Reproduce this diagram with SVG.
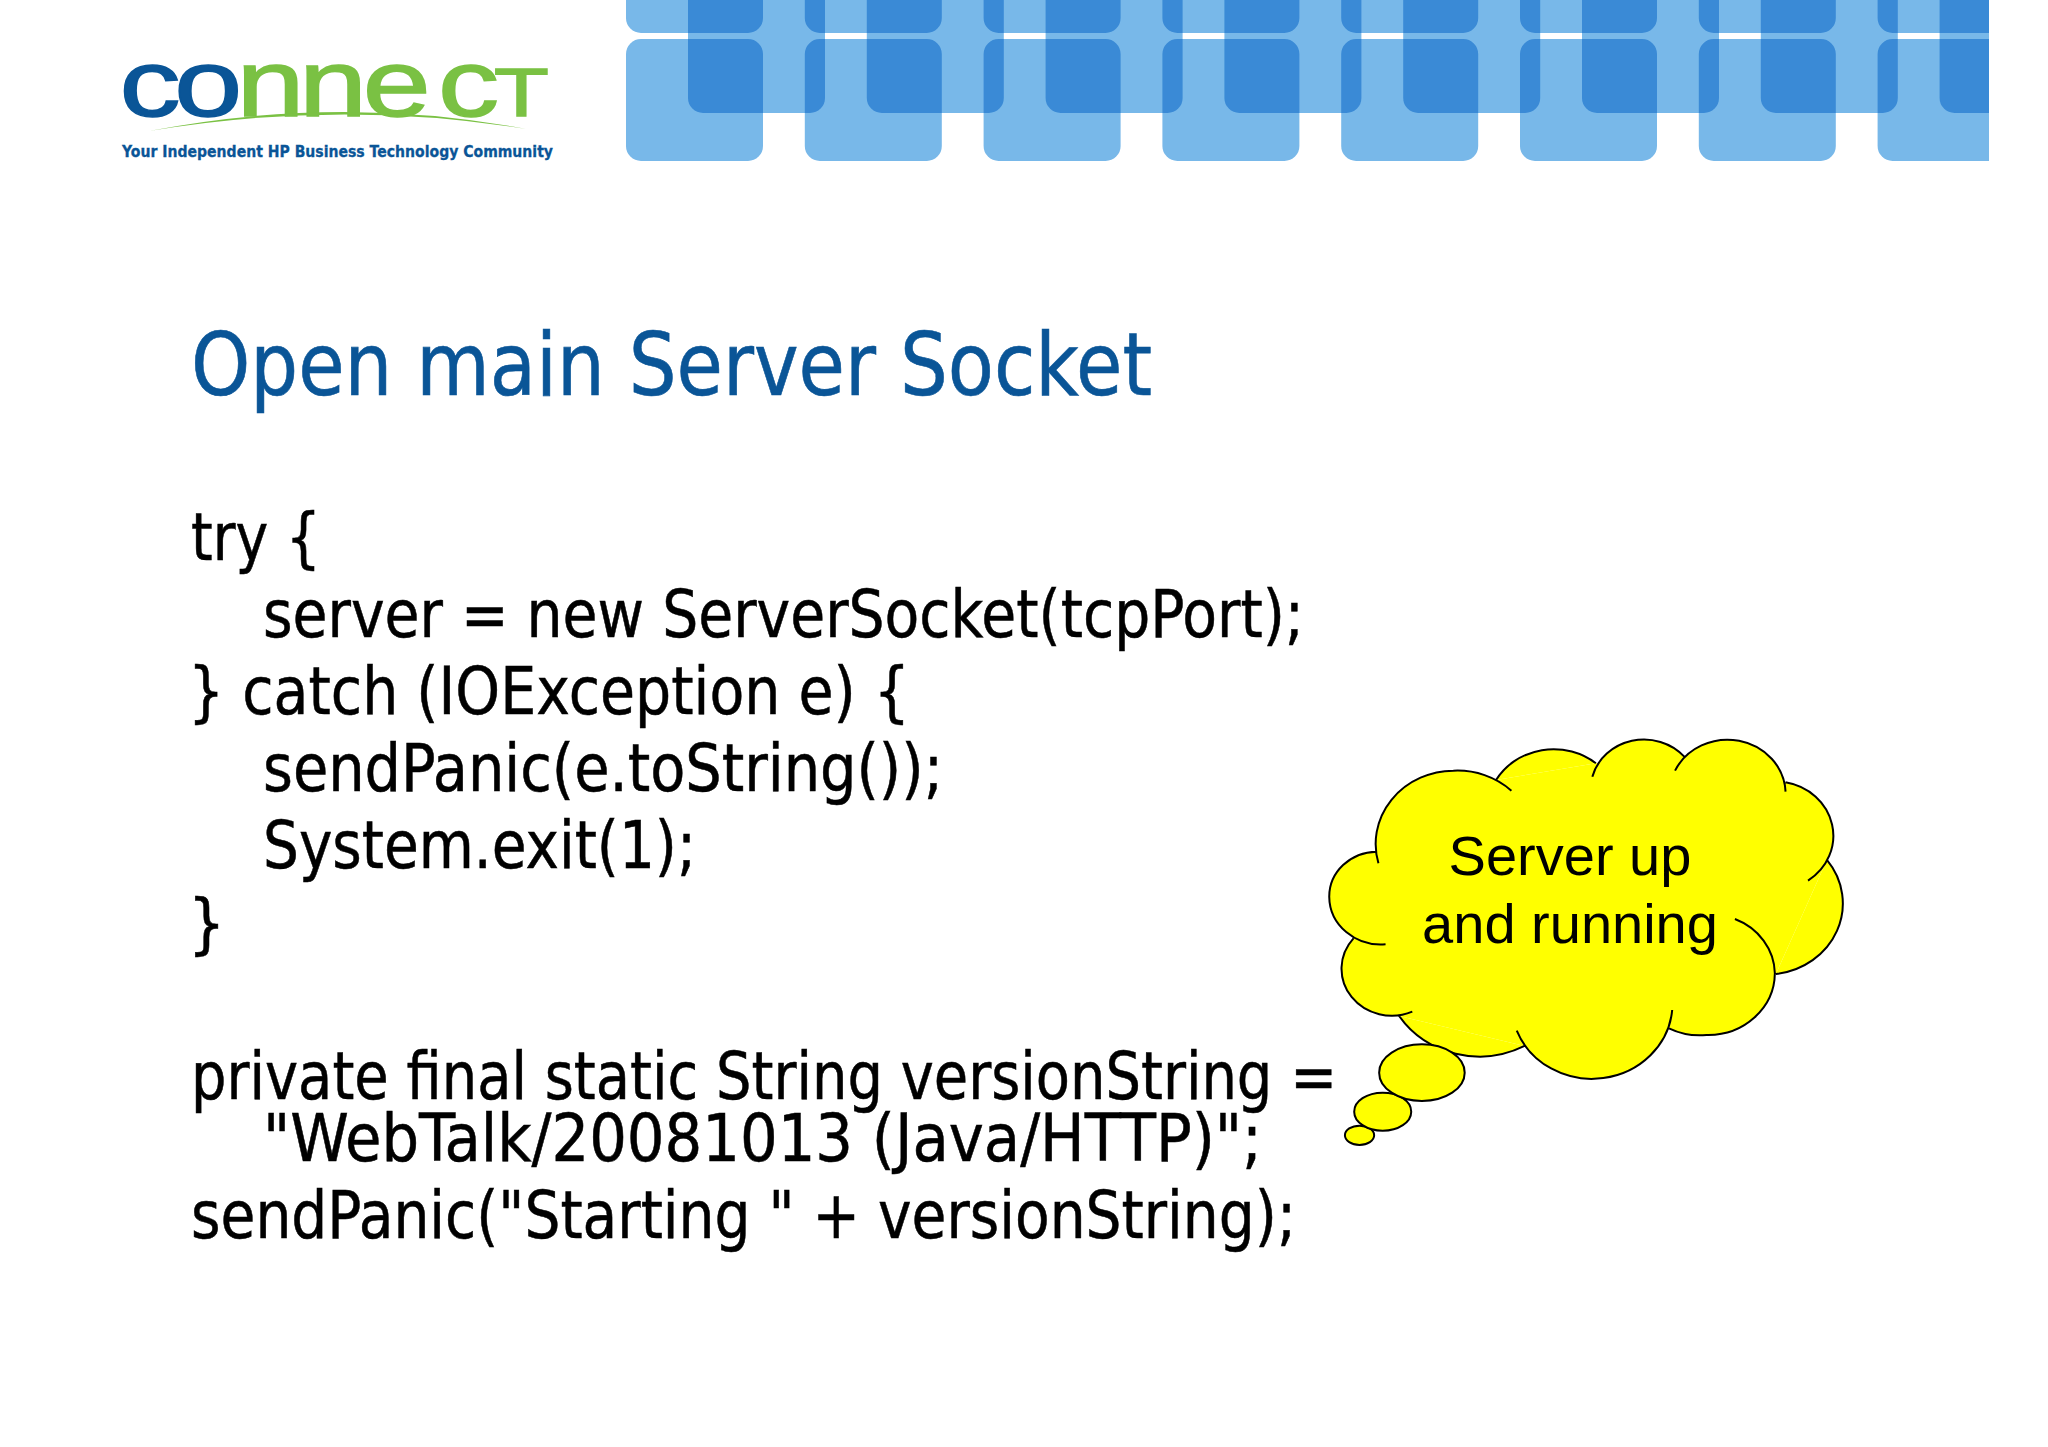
<svg xmlns="http://www.w3.org/2000/svg" width="2048" height="1447" viewBox="0 0 2048 1447">
<style>
.sq{fill:#78B8E9}
.dk{fill:#3A8AD6}
.code{font-family:"DejaVu Sans Condensed","DejaVu Sans",sans-serif;font-size:65px;fill:#000;stroke:#000;stroke-width:.5}
.title{font-family:"DejaVu Sans Condensed","DejaVu Sans",sans-serif;font-size:88px;fill:#0A5597;stroke:#0A5597;stroke-width:.6}
.tag{font-family:"DejaVu Sans","Liberation Sans",sans-serif;font-weight:700;font-size:15px;fill:#0A5597;stroke:#0A5597;stroke-width:.3}
.cl{fill:#FFFF00;stroke:#000;stroke-width:2;vector-effect:non-scaling-stroke}
.clf{fill:#FFFF00}
.cloudtext{font-family:"Liberation Sans",Arial,sans-serif;font-size:56px;fill:#000;text-anchor:middle}
.logo{font-family:"Liberation Sans",Arial,sans-serif;font-size:94px;stroke-width:1.5}
.blue{fill:#0A5597;stroke:#0A5597}
.green{fill:#7AC143;stroke:#7AC143}
</style>
<defs>
<clipPath id="bandClip"><rect x="0" y="0" width="1989" height="170"/></clipPath>
<g id="col1"><rect x="0" y="-100" width="137" height="133" rx="15"/><rect x="0" y="39" width="137" height="122" rx="15"/></g>
<rect id="col2" x="62" y="-40" width="137" height="153" rx="15"/>
<clipPath id="firstSet">
<rect x="626" y="-100" width="137" height="133" rx="15"/><rect x="626" y="39" width="137" height="122" rx="15"/>
<rect x="804.8" y="-100" width="137" height="133" rx="15"/><rect x="804.8" y="39" width="137" height="122" rx="15"/>
<rect x="983.6" y="-100" width="137" height="133" rx="15"/><rect x="983.6" y="39" width="137" height="122" rx="15"/>
<rect x="1162.4" y="-100" width="137" height="133" rx="15"/><rect x="1162.4" y="39" width="137" height="122" rx="15"/>
<rect x="1341.2" y="-100" width="137" height="133" rx="15"/><rect x="1341.2" y="39" width="137" height="122" rx="15"/>
<rect x="1520" y="-100" width="137" height="133" rx="15"/><rect x="1520" y="39" width="137" height="122" rx="15"/>
<rect x="1698.8" y="-100" width="137" height="133" rx="15"/><rect x="1698.8" y="39" width="137" height="122" rx="15"/>
<rect x="1877.6" y="-100" width="137" height="133" rx="15"/><rect x="1877.6" y="39" width="137" height="122" rx="15"/>
</clipPath>
<g id="col2s"><use href="#col2" x="626"/><use href="#col2" x="804.8"/><use href="#col2" x="983.6"/><use href="#col2" x="1162.4"/><use href="#col2" x="1341.2"/><use href="#col2" x="1520"/><use href="#col2" x="1698.8"/><use href="#col2" x="1877.6"/></g>
</defs>
<rect width="2048" height="1447" fill="#fff"/>
<g id="band" clip-path="url(#bandClip)">
<g class="sq">
<use href="#col1" x="626"/><use href="#col1" x="804.8"/><use href="#col1" x="983.6"/><use href="#col1" x="1162.4"/><use href="#col1" x="1341.2"/><use href="#col1" x="1520"/><use href="#col1" x="1698.8"/><use href="#col1" x="1877.6"/>
<use href="#col2s"/>
</g>
<g class="dk" clip-path="url(#firstSet)"><use href="#col2s"/></g>
</g>
<g id="logo">
<text class="logo" transform="translate(0,116) scale(1.3,1)"><tspan class="blue" x="92 134">co</tspan><tspan class="green" x="182 230 279 337">nnec</tspan><tspan class="green" font-size="69" x="380">T</tspan></text>
<path d="M149,131 Q340,94 526,129 Q340,99 149,131 Z" fill="#7AC143"/>
<text class="tag" x="122" y="157" textLength="431" lengthAdjust="spacingAndGlyphs">Your Independent HP Business Technology Community</text>
</g>
<text id="title" class="title" x="191" y="395" textLength="961" lengthAdjust="spacingAndGlyphs">Open main Server Socket</text>
<g id="code">
<text class="code" x="191" y="560" textLength="130" lengthAdjust="spacingAndGlyphs">try {</text>
<text class="code" x="263" y="637" textLength="1041" lengthAdjust="spacingAndGlyphs">server = new ServerSocket(tcpPort);</text>
<text class="code" x="188" y="714" textLength="722" lengthAdjust="spacingAndGlyphs">} catch (IOException e) {</text>
<text class="code" x="263" y="791" textLength="680" lengthAdjust="spacingAndGlyphs">sendPanic(e.toString());</text>
<text class="code" x="263" y="868" textLength="433" lengthAdjust="spacingAndGlyphs">System.exit(1);</text>
<text class="code" x="188" y="946">}</text>
<text class="code" x="191" y="1099" textLength="1146" lengthAdjust="spacingAndGlyphs">private final static String versionString =</text>
<text class="code" x="263" y="1161" textLength="999" lengthAdjust="spacingAndGlyphs">"WebTalk/20081013 (Java/HTTP)";</text>
<text class="code" x="191" y="1238" textLength="1105" lengthAdjust="spacingAndGlyphs">sendPanic("Starting " + versionString);</text>
</g>
<g id="cloud">
<g transform="translate(1300,720) scale(.3565,.3333)">
<polygon class="clf" points="215,395 550,180 830,130 1078,110 1362,187 1478,420 1335,762 1035,925 630,978 278,888 150,655"/>
<path class="cl" d="M220,430 A220,220 0 0 1 430,152 A220,220 0 0 1 593,212 M550,180 A187,187 0 0 1 830,130 M820,170 A150,150 0 0 1 1078,110 M1052,152 A163,163 0 0 1 1362,215 M1362,187 A163,163 0 0 1 1425,482 M1478,420 A213,213 0 0 1 1335,762 M1220,597 A180,180 0 0 1 1332,760 A187,187 0 0 1 1140,945 A190,190 0 0 1 1035,925 M1044,870 A226,226 0 0 1 608,932 M630,978 A270,270 0 0 1 278,888 M315,875 A141,141 0 0 1 150,655 M240,673 A145,145 0 0 1 82,530 A135,135 0 0 1 215,395"/>
<ellipse class="cl" cx="167" cy="1246" rx="41" ry="29"/>
<ellipse class="cl" cx="232" cy="1175" rx="80" ry="57"/>
<ellipse class="cl" cx="342" cy="1058" rx="120" ry="85"/>
</g>
<text class="cloudtext" x="1570" y="875">Server up</text>
<text class="cloudtext" x="1570" y="943">and running</text>
</g>
</svg>
